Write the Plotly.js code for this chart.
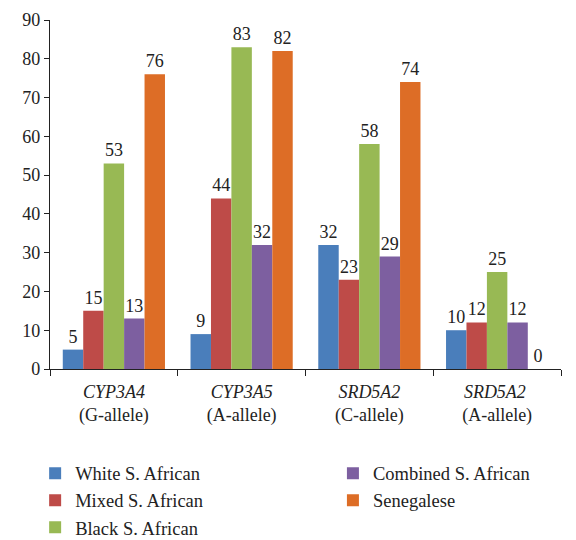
<!DOCTYPE html>
<html><head><meta charset="utf-8">
<script src="https://cdn.plot.ly/plotly-3.0.1.min.js"></script>
<style>html,body{margin:0;padding:0;background:#fff}</style>
</head><body><div id="chart" style="width:576px;height:540px"></div>
<script>
const categories = ["<i>CYP3A4</i><br>(G-allele)", "<i>CYP3A5</i><br>(A-allele)", "<i>SRD5A2</i><br>(C-allele)", "<i>SRD5A2</i> <br>(A-allele)"];
const seriesNames = ["White S. African", "Mixed S. African", "Black S. African", "Combined S. African", "Senegalese"];
const whiteSA = [5, 9, 32, 10];
const mixedSA = [15, 44, 23, 12];
const blackSA = [53, 83, 58, 25];
const combinedSA = [13, 32, 29, 12];
const senegalese = [76, 82, 74, 0];
const seriesValues = [whiteSA, mixedSA, blackSA, combinedSA, senegalese];
const colors = ["#4a7ebb", "#be4b48", "#98b954", "#7d5fa0", "#dd6d26"];
const legendIds = ["legend", "legend", "legend", "legend2", "legend2"];
const font = "Liberation Serif";

const traces = seriesValues.map((vals, i) => ({
  type: "bar",
  name: seriesNames[i],
  x: categories,
  y: vals,
  marker: {color: colors[i]},
  text: vals.map(String),
  textposition: "outside",
  textfont: {family: font, size: 18, color: "#222"},
  cliponaxis: false,
  legend: legendIds[i],
  legendgroup: "g" + i
}));

const legendCommon = {
  orientation: "v",
  xref: "container", yref: "container",
  xanchor: "left", yanchor: "top",
  y: 0.158,
  traceorder: "normal",
  tracegroupgap: 3,
  font: {family: font, size: 18.5, color: "#222"},
  bgcolor: "rgba(0,0,0,0)"
};

const layout = {
  width: 576, height: 540,
  margin: {l: 50, r: 15, t: 20, b: 171, autoexpand: false},
  barmode: "group",
  bargap: 0.2,
  bargroupgap: 0,
  paper_bgcolor: "#fff",
  plot_bgcolor: "#fff",
  font: {family: font, size: 18, color: "#222"},
  showlegend: true,
  legend: Object.assign({}, legendCommon, {x: 0.061}),
  legend2: Object.assign({}, legendCommon, {x: 0.578}),
  xaxis: {
    type: "category",
    automargin: false,
    showline: true, linecolor: "#222", linewidth: 1.2,
    ticks: "outside", tickson: "boundaries", ticklen: 6, tickcolor: "#222",
    tickfont: {family: font, size: 18, color: "#222"},
    ticklabelstandoff: 6,
    tickangle: 0,
    showgrid: false
  },
  yaxis: {
    range: [0, 90],
    dtick: 10,
    automargin: false,
    showline: true, linecolor: "#222", linewidth: 1.2,
    ticks: "outside", ticklen: 5, tickcolor: "#222",
    tickfont: {family: font, size: 18, color: "#222"},
    showgrid: false, zeroline: false
  }
};

Plotly.newPlot("chart", traces, layout, {displayModeBar: false, staticPlot: true});
</script>
</body></html>
